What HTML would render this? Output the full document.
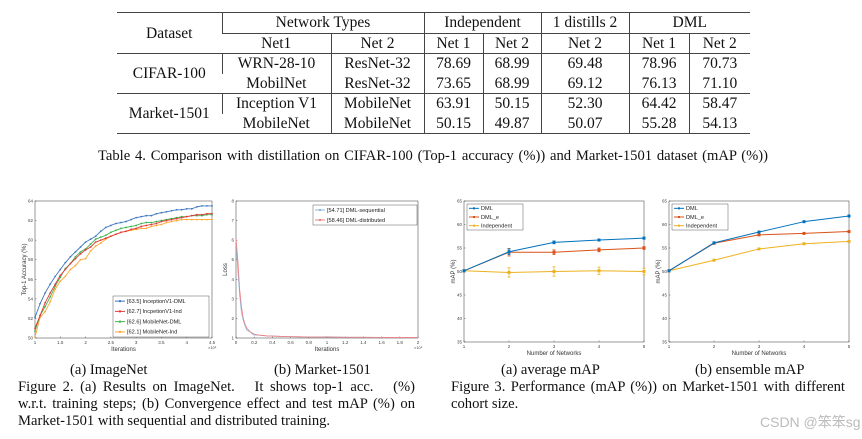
<!DOCTYPE html>
<html><head><meta charset="utf-8"><style>
body{margin:0;width:862px;height:439px;background:#fff;position:relative;overflow:hidden;font-family:"Liberation Serif",serif;color:#111}
.t{position:absolute;white-space:nowrap}
table{position:absolute;left:117px;top:12px;border-collapse:collapse;font-size:15.5px;border-top:1.3px solid #444;border-bottom:1.3px solid #444}
td{padding:0;text-align:center;border-left:1px solid #444;height:19.5px;line-height:19px}
td:first-child{border-left:none}
.thick td{border-top:1.5px solid #444}
svg{position:absolute;left:0;top:0}
.cap{font-size:14.6px}
.jl{text-align:justify;text-align-last:justify;display:block;height:16.8px;overflow:hidden}
</style></head><body>
<table>
<colgroup><col style="width:105px"><col style="width:109px"><col style="width:93px"><col style="width:59px"><col style="width:58px"><col style="width:88px"><col style="width:60px"><col style="width:61px"></colgroup>
<tr><td rowspan="2">Dataset</td><td colspan="2" style="border-bottom:1px solid #444">Network Types</td><td colspan="2" style="border-bottom:1px solid #444">Independent</td><td style="border-bottom:1px solid #444">1 distills 2</td><td colspan="2" style="border-bottom:1px solid #444">DML</td></tr>
<tr><td>Net1</td><td>Net 2</td><td>Net 1</td><td>Net 2</td><td>Net 2</td><td>Net 1</td><td>Net 2</td></tr>
<tr class="thick"><td rowspan="2">CIFAR-100</td><td>WRN-28-10</td><td>ResNet-32</td><td>78.69</td><td>68.99</td><td>69.48</td><td>78.96</td><td>70.73</td></tr>
<tr><td>MobilNet</td><td>ResNet-32</td><td>73.65</td><td>68.99</td><td>69.12</td><td>76.13</td><td>71.10</td></tr>
<tr class="thick"><td rowspan="2">Market-1501</td><td>Inception V1</td><td>MobileNet</td><td>63.91</td><td>50.15</td><td>52.30</td><td>64.42</td><td>58.47</td></tr>
<tr><td>MobileNet</td><td>MobileNet</td><td>50.15</td><td>49.87</td><td>50.07</td><td>55.28</td><td>54.13</td></tr>
</table>
<div class="t cap" style="left:98px;top:148px;width:670px;text-align:justify;text-align-last:justify">Table 4. Comparison with distillation on CIFAR-100 (Top-1 accuracy (%)) and Market-1501 dataset (mAP (%))</div>

<svg id="charts" width="862" height="439"></svg>

<div class="t cap" style="left:70px;top:362px">(a) ImageNet</div>
<div class="t cap" style="left:274px;top:362px">(b) Market-1501</div>
<div class="t cap" style="left:18px;top:379px;width:397px;line-height:16.8px;white-space:normal">
<span class="jl">Figure 2. (a) Results on ImageNet. &nbsp; It shows top-1 acc. &nbsp; (%)</span>
<span class="jl">w.r.t. training steps; (b) Convergence effect and test mAP (%) on</span>
<span style="display:block">Market-1501 with sequential and distributed training.</span></div>
<div class="t cap" style="left:501px;top:362px">(a) average mAP</div>
<div class="t cap" style="left:695px;top:362px">(b) ensemble mAP</div>
<div class="t cap" style="left:451px;top:379px;width:394px;line-height:16.8px;white-space:normal">
<span class="jl">Figure 3. Performance (mAP (%)) on Market-1501 with different</span>
<span style="display:block">cohort size.</span></div>
<div class="t" style="left:760px;top:412px;font-family:'Liberation Sans','Noto Sans CJK SC',sans-serif;font-size:14px;color:#bbb">CSDN @笨笨sg</div>

<script>
// Fig 2a data
const iterX = [1,1.1,1.2,1.3,1.4,1.5,1.6,1.7,1.8,1.9,2,2.1,2.2,2.3,2.4,2.5,2.6,2.7,2.8,2.9,3,3.1,3.2,3.3,3.4,3.5,3.6,3.7,3.8,3.9,4,4.1,4.2,4.3,4.4,4.5];
const incDML = [52.1,53.5,54.6,55.5,56.3,57.0,57.7,58.3,58.8,59.3,59.8,60.1,60.4,60.9,61.3,61.5,61.7,61.8,61.9,62.1,62.3,62.4,62.5,62.5,62.7,62.8,62.9,63.0,63.1,63.1,63.2,63.2,63.4,63.5,63.5,63.5];
const incInd = [51.0,52.3,53.6,54.6,55.5,56.4,57.0,57.6,58.1,58.6,59.0,59.3,59.8,60.0,60.2,60.4,60.6,60.8,60.9,61.1,61.2,61.4,61.5,61.6,61.7,61.9,62.0,62.1,62.2,62.3,62.4,62.5,62.6,62.6,62.7,62.7];
const mobDML = [50.7,52.3,53.2,54.2,55.3,56.2,57.1,57.6,58.3,58.8,59.1,59.6,60.1,60.3,60.5,60.8,61.0,61.2,61.3,61.4,61.5,61.7,61.8,61.8,61.9,62.0,62.1,62.2,62.3,62.4,62.4,62.5,62.5,62.5,62.6,62.6];
const mobInd = [50.1,52.1,52.7,53.7,55.0,55.8,56.3,57.0,57.4,58.0,58.1,58.9,59.4,59.7,60.1,60.4,60.6,60.8,60.9,61.0,61.1,61.2,61.2,61.4,61.5,61.6,61.8,61.9,62.0,62.1,62.1,62.1,62.1,62.1,62.1,62.1];
const accTicksY = [50,52,54,56,58,60,62,64];
const accTicksX = [1,1.5,2,2.5,3,3.5,4,4.5];
// Fig 2b data
const lossX = [0,0.02,0.04,0.06,0.08,0.1,0.12,0.14,0.16,0.18,0.2,0.25,0.3,0.35,0.4,0.5,0.6,0.7,0.8,0.9,1.0,1.2,1.4,1.6,1.8,2.0];
const lossSeq = [6.0,4.5,3.2,2.3,1.9,1.6,1.4,1.35,1.3,1.2,1.15,1.15,1.12,1.1,1.1,1.08,1.07,1.06,1.05,1.05,1.06,1.04,1.04,1.03,1.03,1.03];
const lossDist = [6.1,5.0,3.5,2.6,2.0,1.7,1.5,1.4,1.3,1.25,1.2,1.15,1.13,1.1,1.1,1.08,1.07,1.06,1.05,1.05,1.05,1.04,1.04,1.03,1.03,1.03];
const lossTicksY = [1,2,3,4,5,6,7,8];
const lossTicksX = [0,0.2,0.4,0.6,0.8,1,1.2,1.4,1.6,1.8,2];
// Fig 3 data
const nets = [1,2,3,4,5];
const avgDML = [50.15,54.2,56.2,56.7,57.1];
const avgDMLe = [50.15,54.1,54.1,54.6,55.0];
const avgInd = [50.15,49.8,50.0,50.15,50.0];
const avgErrDML = [0,0.6,0.3,0.2,0.2];
const avgErrDMLe = [0,0.8,0.5,0.4,0.3];
const avgErrInd = [0,1.0,1.0,0.8,0.7];
const ensDML = [50.15,56.1,58.4,60.6,61.8];
const ensDMLe = [50.15,56.0,57.8,58.1,58.5];
const ensInd = [50.15,52.4,54.8,55.9,56.4];
const mapTicksY = [35,40,45,50,55,60,65];

const svg = document.getElementById('charts');
const NS = 'http://www.w3.org/2000/svg';
function mk(tag, attrs, parent){const e=document.createElementNS(NS,tag);for(const k in attrs)e.setAttribute(k,attrs[k]);(parent||svg).appendChild(e);return e;}

function chart(name, box, xd, yd, xt, yt, xlab, ylab, expo){
  const g = mk('g',{});
  
  
  const sx = v => box.x + (v - xd[0])/(xd[1]-xd[0])*box.w;
  const sy = v => box.y + box.h - (v - yd[0])/(yd[1]-yd[0])*box.h;
  mk('rect',{x:box.x,y:box.y,width:box.w,height:box.h,fill:'#fff',stroke:'#333','stroke-width':0.5},g);
  xt.forEach(t=>{const x=sx(t);mk('line',{x1:x,x2:x,y1:box.y+box.h,y2:box.y+box.h-1.5,stroke:'#333','stroke-width':0.4},g);
    const tx=mk('text',{x:x,y:box.y+box.h+6,'font-size':4.5,'text-anchor':'middle',fill:'#444','font-family':'Liberation Sans, sans-serif'},g);tx.textContent=t;
    
    });
  yt.forEach(t=>{const y=sy(t);mk('line',{x1:box.x,x2:box.x+1.5,y1:y,y2:y,stroke:'#333','stroke-width':0.4},g);
    const tx=mk('text',{x:box.x-2,y:y+1.5,'font-size':4.5,'text-anchor':'end',fill:'#444','font-family':'Liberation Sans, sans-serif'},g);tx.textContent=t;
    
    });
  const xl=mk('text',{x:box.x+box.w/2,y:box.y+box.h+13,'font-size':6,'text-anchor':'middle',fill:'#333','font-family':'Liberation Sans, sans-serif'},g);xl.textContent=xlab;
  
  
  const yl=mk('text',{x:0,y:0,'font-size':6,'text-anchor':'middle',fill:'#333','font-family':'Liberation Sans, sans-serif',transform:`translate(${box.x-9},${box.y+box.h/2}) rotate(-90)`},g);yl.textContent=ylab;
  
  
  if(expo){const e=mk('text',{x:box.x+box.w-4,y:box.y+box.h+11,'font-size':4,fill:'#444','font-family':'Liberation Sans, sans-serif'},g);e.textContent='×10⁵';}
  return {g,sx,sy};
}
function series(c, name, xs, ys, color, marker, width, errs){
  const g=mk('g',{},c.g);
  
  
  if(errs){xs.forEach((x,i)=>{if(errs[i]>0){const X=c.sx(x);mk('line',{x1:X,x2:X,y1:c.sy(ys[i]-errs[i]),y2:c.sy(ys[i]+errs[i]),stroke:color,'stroke-width':0.8},g);
    [ys[i]-errs[i],ys[i]+errs[i]].forEach(v=>mk('line',{x1:X-1.5,x2:X+1.5,y1:c.sy(v),y2:c.sy(v),stroke:color,'stroke-width':0.8},g));}});}
  mk('polyline',{points:xs.map((x,i)=>c.sx(x)+','+c.sy(ys[i])).join(' '),fill:'none',stroke:color,'stroke-width':width,'stroke-linejoin':'round'},g);
  if(marker==='dot') xs.forEach((x,i)=>mk('circle',{cx:c.sx(x),cy:c.sy(ys[i]),r:0.9,fill:color},g));
  if(marker==='sq') xs.forEach((x,i)=>mk('rect',{x:c.sx(x)-1.5,y:c.sy(ys[i])-1.5,width:3,height:3,fill:color},g));
}
function legend(c, box, items){
  const g=mk('g',{},c.g);
  
  
  mk('rect',{x:box.x,y:box.y,width:box.w,height:box.h,fill:'#fff',stroke:'#333','stroke-width':0.4},g);
  const step=box.h/items.length;
  items.forEach((it,i)=>{const y=box.y+step*(i+0.5);
    const e=mk('g',{},g);
    
    
    mk('line',{x1:box.x+2,x2:box.x+12,y1:y,y2:y,stroke:it[1],'stroke-width':1},e);
    mk('rect',{x:box.x+6,y:y-1,width:2,height:2,fill:it[1]},e);
    const t=mk('text',{x:box.x+14,y:y+1.8,'font-size':box.fs,fill:'#222','font-family':'Liberation Sans, sans-serif'},e);t.textContent=it[0];});
}

const c1 = chart('imagenet-accuracy-chart',{x:35,y:201,w:177,h:137},[1,4.5],[50,64],accTicksX,accTicksY,'Iterations','Top-1 Accuracy (%)',true);
series(c1,'series-mobilenet-ind',iterX,mobInd,'#ffa733','dot',0.9);
series(c1,'series-mobilenet-dml',iterX,mobDML,'#3fb34f','dot',0.9);
series(c1,'series-inceptionv1-ind',iterX,incInd,'#e03a3a','dot',0.9);
series(c1,'series-inceptionv1-dml',iterX,incDML,'#3f78bf','dot',0.9);
legend(c1,{x:113,y:296,w:96,h:41,fs:5.6},[['[63.5] InceptionV1-DML','#3f78bf'],['[62.7] IncpetionV1-Ind','#e03a3a'],['[62.6] MobileNet-DML','#3fb34f'],['[62.1] MobileNet-Ind','#ffa733']]);

const c2 = chart('market-loss-chart',{x:236,y:201,w:182,h:137},[0,2],[1,8],lossTicksX,lossTicksY,'Iterations','Loss',true);
series(c2,'series-dml-sequential',lossX,lossSeq,'#8fb6e0',null,0.8);
series(c2,'series-dml-distributed',lossX,lossDist,'#f08080',null,0.8);
legend(c2,{x:313,y:205,w:104,h:20,fs:5.6},[['[54.71] DML-sequential','#8fb6e0'],['[58.46] DML-distributed','#f08080']]);

const c3 = chart('average-map-chart',{x:464,y:201,w:180,h:141},[1,5],[35,65],nets,mapTicksY,'Number of Networks','mAP (%)',false);
series(c3,'series-independent',nets,avgInd,'#edb120','sq',1,avgErrInd);
series(c3,'series-dml-e',nets,avgDMLe,'#d95319','sq',1,avgErrDMLe);
series(c3,'series-dml',nets,avgDML,'#0072bd','sq',1,avgErrDML);
legend(c3,{x:467,y:204,w:56,h:26,fs:5.6},[['DML','#0072bd'],['DML_e','#d95319'],['Independent','#edb120']]);

const c4 = chart('ensemble-map-chart',{x:669,y:201,w:180,h:141},[1,5],[35,65],nets,mapTicksY,'Number of Networks','mAP (%)',false);
series(c4,'series-independent',nets,ensInd,'#edb120','sq',1);
series(c4,'series-dml-e',nets,ensDMLe,'#d95319','sq',1);
series(c4,'series-dml',nets,ensDML,'#0072bd','sq',1);
legend(c4,{x:672,y:204,w:56,h:26,fs:5.6},[['DML','#0072bd'],['DML_e','#d95319'],['Independent','#edb120']]);
</script>
</body></html>
